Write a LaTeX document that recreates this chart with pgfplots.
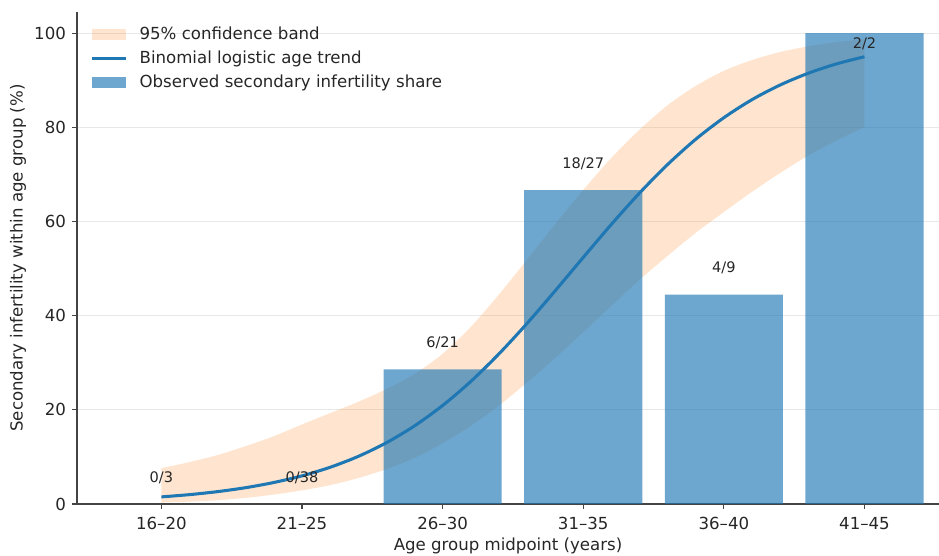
\documentclass[border=0pt]{standalone}
\usepackage{fontspec}
\setmainfont{DejaVu Sans}
\usepackage{pgfplots}
\usepackage{pgfplotstable}
\pgfplotsset{compat=1.18}
\usepgfplotslibrary{fillbetween}
\definecolor{tabblue}{HTML}{1F77B4}
\definecolor{taborange}{HTML}{FF7F0E}
\definecolor{spinec}{HTML}{444444}
\definecolor{gridc}{HTML}{E8E8E8}

\pgfplotstableread{
x upper lower
18 7.6 0.3
19 8.9 0.5
20 10.4 0.8
21 12.3 1.3
22 14.4 2.0
23 16.9 2.9
24 19.3 4.0
25 21.7 5.5
26 24.4 7.4
27 27.6 9.8
28 31.9 12.9
29 37.6 16.6
30 44.5 20.9
31 51.9 25.8
32 59.4 31.0
33 66.7 36.5
34 73.5 42.1
35 79.5 47.6
36 84.7 52.7
37 88.8 57.6
38 92.0 62.0
39 94.3 66.3
40 96.0 70.3
41 97.2 74.0
42 98.1 77.2
43 98.7 80.1
}\bandtable

\pgfplotstableread{
x p
18 1.51
19 1.99
20 2.63
21 3.47
22 4.57
23 5.98
24 7.80
25 10.11
26 13.01
27 16.59
28 20.92
29 26.02
30 31.87
31 38.34
32 45.27
33 52.37
34 59.39
35 66.04
36 72.11
37 77.47
38 82.05
39 85.88
40 88.99
41 91.49
42 93.47
43 95.00
}\trendtable

\pgfplotstableread{
x share
18 0
23 0
28 28.571
33 66.667
38 44.444
43 100
}\bartable

\begin{document}
\begin{tikzpicture}
\begin{axis}[
  at={(0,0)}, anchor=south west,
  scale only axis, width=620.64bp, height=354.24bp,
  xmin=15, xmax=45.65, ymin=0, ymax=104.5,
  axis x line*=bottom, axis y line*=left,
  axis line style={spinec, line width=0.8pt},
  tick style={spinec, line width=0.8pt},
  tick align=outside, major tick length=3.5pt,
  xtick={18,23,28,33,38,43},
  xticklabels={16–20,21–25,26–30,31–35,36–40,41–45},
  ytick={0,20,40,60,80,100},
  ymajorgrids, grid style={gridc, line width=0.8pt},
  font=\fontsize{12}{14}\selectfont,
  /pgf/number format/assume math mode=true,
  xticklabel style={anchor=base, inner sep=0pt, yshift=-14.9bp, text=black!85},
  yticklabel style={anchor=east, inner sep=0pt, xshift=-4.3bp, text=black!85},
  xlabel={Age group midpoint (years)},
  ylabel={Secondary infertility within age group (\%)},
  xlabel style={at={(axis description cs:0.5,0)}, anchor=center, yshift=-30.4bp, text=black!85},
  ylabel style={at={(axis description cs:-0.0685,0.5)}, anchor=center, text=black!85},
  legend style={draw=none, fill=none, at={(0.014,0.978)}, anchor=north west,
    font=\fontsize{12}{14}\selectfont, row sep=2.6bp, inner sep=1pt, text=black!85,
    /tikz/every odd column/.append style={column sep=7bp}},
  legend cell align=left,
]
% legend entries
\addlegendimage{legend image code/.code={\fill[taborange, fill opacity=0.2, draw=none] (0bp,-4bp) rectangle (24bp,4bp);}}
\addlegendentry{95\% confidence band}
\addlegendimage{legend image code/.code={\draw[tabblue, line width=2.2bp] (0bp,0bp) -- (24bp,0bp);}}
\addlegendentry{Binomial logistic age trend}
\addlegendimage{legend image code/.code={\fill[tabblue, fill opacity=0.65, draw=none] (0bp,-4bp) rectangle (24bp,4bp);}}
\addlegendentry{Observed secondary infertility share}

% bars
\addplot[ybar, bar width=4.2, fill=tabblue, fill opacity=0.65, draw=none, forget plot] table[x=x, y=share] {\bartable};

% band
\addplot[name path=up, draw=none, smooth, forget plot] table[x=x, y=upper] {\bandtable};
\addplot[name path=lo, draw=none, smooth, forget plot] table[x=x, y=lower] {\bandtable};
\addplot[taborange, fill opacity=0.2, draw=none, forget plot] fill between[of=up and lo];

% trend
\addplot[tabblue, line width=2.2bp, smooth, forget plot] table[x=x, y=p] {\trendtable};

% count labels
\begin{scope}[every node/.style={font=\fontsize{10.5}{12}\selectfont, text=black!85, inner sep=0pt}]
\node at (axis cs:18,5.5) {0/3};
\node at (axis cs:23,5.5) {0/38};
\node at (axis cs:28,34.2) {6/21};
\node at (axis cs:33,72.3) {18/27};
\node at (axis cs:38,50.1) {4/9};
\node at (axis cs:43,97.7) {2/2};
\end{scope}
\end{axis}
\pgfresetboundingbox
\useasboundingbox (-55.44bp,-37.44bp) rectangle (620.64bp,362.88bp);
\end{tikzpicture}
\end{document}
